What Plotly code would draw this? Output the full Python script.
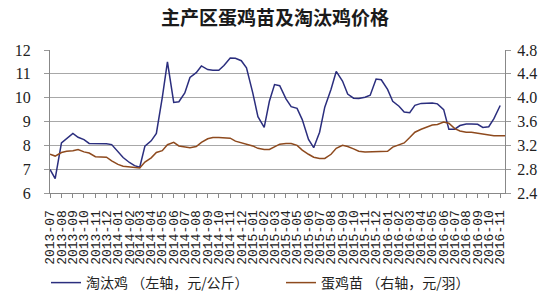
import pandas as pd
import plotly.graph_objects as go

# semi-monthly observation dates, 2013-07-01 .. 2016-11-15
dates = pd.date_range("2013-07-01", periods=82, freq="SMS")

# 淘汰鸡 (left axis, 元/公斤), 2013-07-01 .. 2016-11-01
culled_hen = [
    6.99, 6.60, 8.10, 8.28, 8.50, 8.34, 8.24, 8.08, 8.08, 8.10,
    8.07, 8.03, 7.73, 7.49, 7.28, 7.15, 7.08, 7.97, 8.19, 8.50,
    10.00, 11.50, 9.80, 9.83, 10.20, 10.85, 11.05, 11.33, 11.18, 11.15,
    11.15, 11.35, 11.66, 11.65, 11.55, 11.25, 10.20, 9.20, 8.75, 9.85,
    10.55, 10.50, 9.95, 9.62, 9.55, 9.08, 8.25, 7.90, 8.55, 9.60,
    10.35, 11.10, 10.70, 10.15, 9.98, 9.97, 10.02, 10.10, 10.78, 10.75,
    10.35, 9.85, 9.64, 9.40, 9.37, 9.68, 9.76, 9.77, 9.78, 9.74,
    9.50, 8.68, 8.68, 8.83, 8.89, 8.89, 8.88, 8.75, 8.78, 9.12,
    9.67,
]

# 蛋鸡苗 (right axis, 元/羽), 2013-07-01 .. 2016-11-15
chick = [
    3.05, 3.02, 3.08, 3.10, 3.11, 3.13, 3.09, 3.07, 3.01, 3.00,
    3.00, 2.94, 2.88, 2.85, 2.84, 2.83, 2.82, 2.92, 2.99, 3.08,
    3.11, 3.21, 3.25, 3.19, 3.18, 3.16, 3.18, 3.25, 3.31, 3.33,
    3.33, 3.32, 3.32, 3.27, 3.24, 3.22, 3.19, 3.15, 3.13, 3.13,
    3.18, 3.22, 3.23, 3.23, 3.20, 3.12, 3.05, 3.00, 2.98, 2.98,
    3.05, 3.15, 3.20, 3.18, 3.14, 3.10, 3.09, 3.09, 3.09, 3.10,
    3.10, 3.17, 3.21, 3.24, 3.33, 3.42, 3.47, 3.50, 3.54, 3.55,
    3.59, 3.57, 3.48, 3.44, 3.42, 3.42, 3.40, 3.39, 3.37, 3.36,
    3.36, 3.36,
]

title = "主产区蛋鸡苗及淘汰鸡价格"
name_hen = "淘汰鸡 （左轴，元/公斤）"
name_chick = "蛋鸡苗 （右轴，元/羽）"

serif = "Liberation Serif, DejaVu Serif, serif"
mono = "Liberation Mono, DejaVu Sans Mono, monospace"
cjk = "Noto Sans CJK SC, sans-serif"

fig = go.Figure()
fig.add_trace(go.Scatter(x=dates[:len(culled_hen)], y=culled_hen, mode="lines",
                         name=name_hen, line=dict(color="#2B2E7E", width=1.5),
                         yaxis="y", legend="legend"))
fig.add_trace(go.Scatter(x=dates[:len(chick)], y=chick, mode="lines",
                         name=name_chick, line=dict(color="#8E4A1E", width=1.5),
                         yaxis="y2", legend="legend2"))

leg_common = dict(
    orientation="h", xref="container", yref="container",
    xanchor="left", y=1 - 283 / 300, yanchor="middle",
    font=dict(family=cjk, size=14, color="#222222"),
    bgcolor="rgba(0,0,0,0)", itemwidth=30,
)

fig.update_layout(
    width=550, height=300,
    margin=dict(l=50, r=45, t=50, b=107, autoexpand=False),
    paper_bgcolor="white", plot_bgcolor="white",
    title=dict(text="<b>" + title + "</b>", x=0.5, xanchor="center",
               y=1 - 18 / 300, yanchor="middle", yref="container",
               font=dict(family=cjk, size=19, color="#1a1a1a")),
    xaxis=dict(
        type="date", range=["2013-07-01", "2016-11-14"], automargin=False,
        dtick="M1", tick0="2013-07-01", tickformat="%Y-%m", tickangle=-90,
        ticks="outside", ticklen=4, tickcolor="#888888",
        showline=True, linecolor="#888888", linewidth=1,
        showgrid=False, zeroline=False, ticklabelstandoff=7,
        tickfont=dict(family=mono, size=13, color="#222222"),
    ),
    yaxis=dict(
        range=[6, 12], dtick=1, tick0=6, automargin=False,
        ticks="outside", ticklen=5, tickcolor="#999999",
        showline=True, linecolor="#888888", linewidth=1,
        showgrid=True, gridcolor="#A8A8A8", gridwidth=1, zeroline=False,
        ticklabelstandoff=10,
        tickfont=dict(family=serif, size=16, color="#222222"),
    ),
    yaxis2=dict(
        range=[2.4, 4.8], dtick=0.4, tick0=2.4, tickformat=".1f",
        overlaying="y", side="right", automargin=False,
        ticks="outside", ticklen=5, tickcolor="#999999",
        showline=True, linecolor="#888888", linewidth=1,
        showgrid=False, zeroline=False, ticklabelstandoff=3,
        tickfont=dict(family=serif, size=16, color="#222222"),
    ),
    showlegend=True,
    legend=dict(x=46 / 550, **leg_common),
    legend2=dict(x=281 / 550, **leg_common),
)

fig.write_html("out.html")
